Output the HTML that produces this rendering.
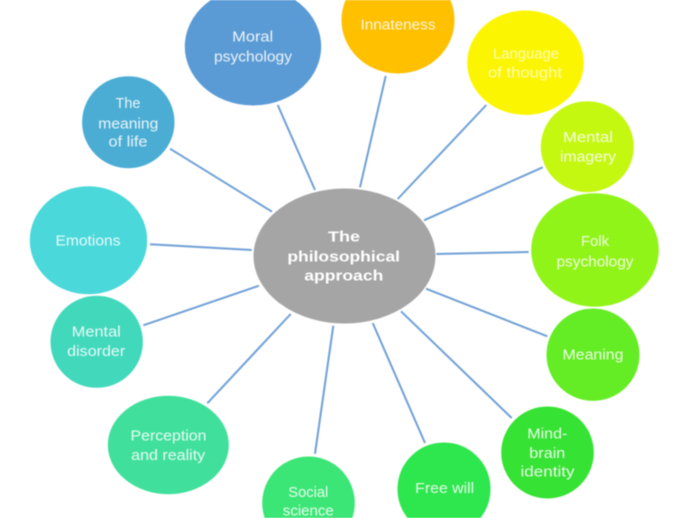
<!DOCTYPE html>
<html>
<head>
<meta charset="utf-8">
<style>
html,body{margin:0;padding:0;background:#fff;width:690px;height:518px;overflow:hidden}
svg{display:block;position:absolute;left:0;top:0}
.n{font-family:"Liberation Sans",sans-serif;font-size:15px;fill:#fff;fill-opacity:.88;text-anchor:middle}
.c{font-family:"Liberation Sans",sans-serif;font-size:15px;font-weight:bold;fill:#fff;text-anchor:middle}
</style>
</head>
<body>
<svg width="690" height="518" viewBox="0 0 690 518" xmlns="http://www.w3.org/2000/svg">
<defs><filter id="b" x="0" y="0" width="690" height="518" filterUnits="userSpaceOnUse" color-interpolation-filters="sRGB"><feGaussianBlur stdDeviation="0.4" edgeMode="duplicate"/></filter></defs>
<g filter="url(#b)">
<g stroke="#6FA0D6" stroke-width="2" fill="none">
<line x1="277.7" y1="105" x2="315" y2="190"/>
<line x1="170" y1="148.7" x2="272" y2="211.7"/>
<line x1="150" y1="244.3" x2="251.7" y2="250"/>
<line x1="385.7" y1="76" x2="360" y2="187.3"/>
<line x1="486.3" y1="105" x2="397.7" y2="199"/>
<line x1="542.7" y1="167.3" x2="424" y2="220.3"/>
<line x1="528.7" y1="252" x2="435.7" y2="254"/>
<line x1="143.3" y1="325.3" x2="259" y2="285.7"/>
<line x1="207.3" y1="403.3" x2="290.7" y2="314"/>
<line x1="315" y1="453.7" x2="333.3" y2="325.7"/>
<line x1="425" y1="443" x2="372.7" y2="323"/>
<line x1="511.7" y1="418" x2="401" y2="311.3"/>
<line x1="547.3" y1="336.3" x2="426" y2="288.7"/>
</g>
<g stroke="#fff" stroke-width="1">
<path d="M210.1 0A68.7 59.5 0 1 0 295.9 0" fill="#5B9BD5"/>
<ellipse cx="128.3" cy="122.2" rx="46.7" ry="46.5" fill="#4BADD3"/>
<ellipse cx="88.5" cy="240.3" rx="59.2" ry="54.5" fill="#4AD8DA"/>
<ellipse cx="96.7" cy="341.8" rx="46.7" ry="46.5" fill="#42D8BC"/>
<ellipse cx="168.3" cy="445" rx="61" ry="49.7" fill="#40E09C"/>
<path d="M264.15 518A46.8 47 0 1 1 352.85 518" fill="#3CE676"/>
<path d="M407 518A47 47 0 1 1 481 518" fill="#2EE64E"/>
<ellipse cx="547.5" cy="452.5" rx="46.8" ry="46.5" fill="#36E233"/>
<ellipse cx="593" cy="354.7" rx="47" ry="46.7" fill="#64EC24"/>
<ellipse cx="595" cy="250" rx="64.3" ry="57.2" fill="#90F418"/>
<ellipse cx="587.3" cy="146.7" rx="47" ry="46" fill="#C4F811"/>
<ellipse cx="525.5" cy="62.7" rx="58.8" ry="52.7" fill="#FCF502"/>
<path d="M345.05 0A57 54 0 1 0 450.95 0" fill="#FFC000"/>
<ellipse cx="344.5" cy="256" rx="91.5" ry="68" fill="#A5A5A5"/>
</g>
<g>
<text class="n" x="252.7" y="41.7" textLength="41" lengthAdjust="spacingAndGlyphs">Moral</text>
<text class="n" x="253" y="61.7" textLength="78" lengthAdjust="spacingAndGlyphs">psychology</text>
<text class="n" x="128" y="108" textLength="25" lengthAdjust="spacingAndGlyphs">The</text>
<text class="n" x="128.3" y="128.3" textLength="60" lengthAdjust="spacingAndGlyphs">meaning</text>
<text class="n" x="128" y="146.7" textLength="39" lengthAdjust="spacingAndGlyphs">of life</text>
<text class="n" x="88" y="245.3" textLength="65" lengthAdjust="spacingAndGlyphs">Emotions</text>
<text class="n" x="96.3" y="336.7" textLength="49" lengthAdjust="spacingAndGlyphs">Mental</text>
<text class="n" x="96.2" y="356" textLength="58" lengthAdjust="spacingAndGlyphs">disorder</text>
<text class="n" x="168.5" y="440.7" textLength="76" lengthAdjust="spacingAndGlyphs">Perception</text>
<text class="n" x="168.2" y="460" textLength="74" lengthAdjust="spacingAndGlyphs">and reality</text>
<text class="n" x="308.3" y="497" textLength="40" lengthAdjust="spacingAndGlyphs">Social</text>
<text class="n" x="308.3" y="515.5" textLength="51" lengthAdjust="spacingAndGlyphs">science</text>
<text class="n" x="444.7" y="493" textLength="59" lengthAdjust="spacingAndGlyphs">Free will</text>
<text class="n" x="547.3" y="438.7" textLength="40" lengthAdjust="spacingAndGlyphs">Mind-</text>
<text class="n" x="547.3" y="458" textLength="36" lengthAdjust="spacingAndGlyphs">brain</text>
<text class="n" x="547.5" y="476.3" textLength="54" lengthAdjust="spacingAndGlyphs">identity</text>
<text class="n" x="593" y="359.3" textLength="61" lengthAdjust="spacingAndGlyphs">Meaning</text>
<text class="n" x="595" y="246" textLength="28" lengthAdjust="spacingAndGlyphs">Folk</text>
<text class="n" x="595" y="266.3" textLength="77" lengthAdjust="spacingAndGlyphs">psychology</text>
<text class="n" x="588" y="142" textLength="50" lengthAdjust="spacingAndGlyphs">Mental</text>
<text class="n" x="588" y="161.3" textLength="56" lengthAdjust="spacingAndGlyphs">imagery</text>
<text class="n" x="526" y="58.7" textLength="66" lengthAdjust="spacingAndGlyphs" style="fill-opacity:.7">Language</text>
<text class="n" x="525" y="77.7" textLength="74" lengthAdjust="spacingAndGlyphs" style="fill-opacity:.7">of thought</text>
<text class="n" x="398" y="29.3" textLength="75" lengthAdjust="spacingAndGlyphs">Innateness</text>
<text class="c" x="344" y="241.7" textLength="32" lengthAdjust="spacingAndGlyphs">The</text>
<text class="c" x="343.7" y="261.7" textLength="112.7" lengthAdjust="spacingAndGlyphs">philosophical</text>
<text class="c" x="343.8" y="280.7" textLength="79" lengthAdjust="spacingAndGlyphs">approach</text>
</g>
</g>
</svg>
</body>
</html>
